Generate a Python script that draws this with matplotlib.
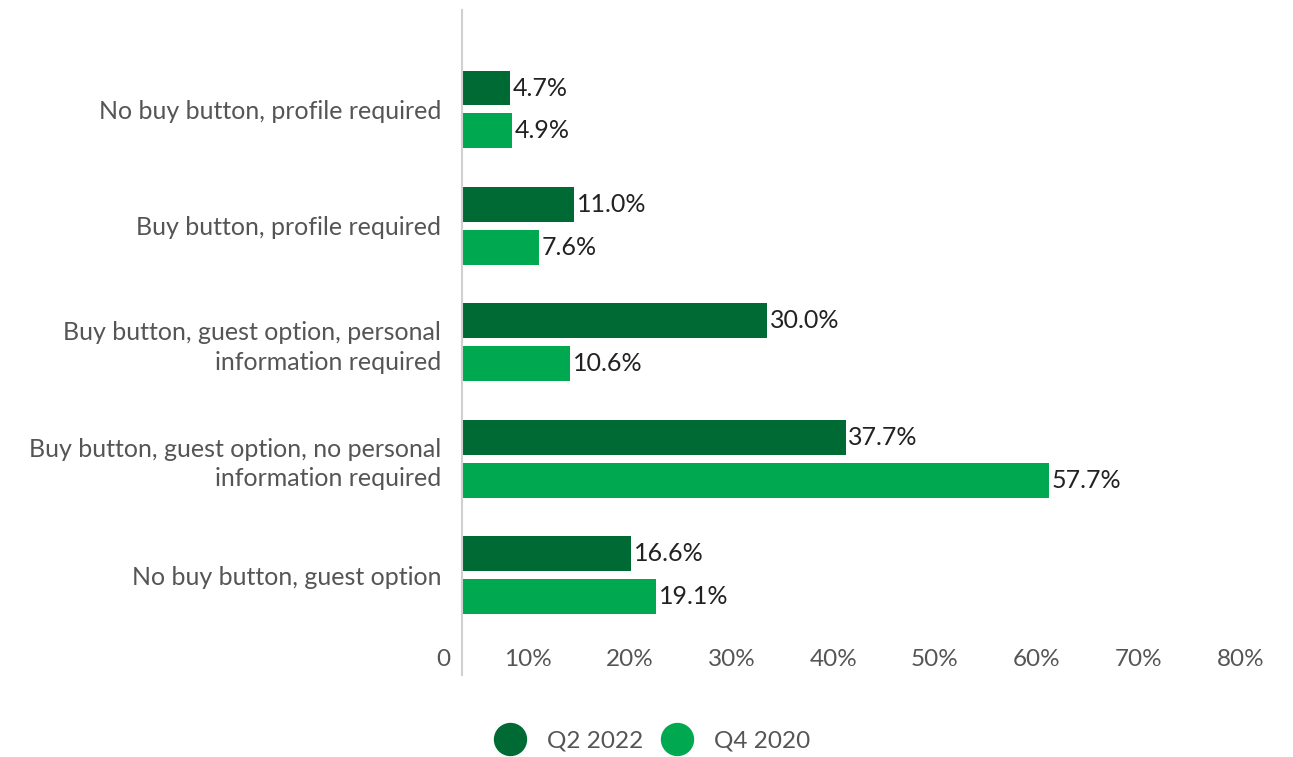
import numpy as np
import matplotlib.pyplot as plt
import matplotlib.transforms as mtransforms
from matplotlib.lines import Line2D

plt.rcParams['font.family'] = ['Lato', 'DejaVu Sans']

categories = [
    "No buy button, profile required",
    "Buy button, profile required",
    "Buy button, guest option, personal\ninformation required",
    "Buy button, guest option, no personal\ninformation required",
    "No buy button, guest option",
]
q2_2022 = [4.7, 11.0, 30.0, 37.7, 16.6]
q4_2020 = [4.9, 7.6, 10.6, 57.7, 19.1]
series_names = ["Q2 2022", "Q4 2020"]
xticks = [0, 10, 20, 30, 40, 50, 60, 70, 80]
xtick_labels = ["0", "10%", "20%", "30%", "40%", "50%", "60%", "70%", "80%"]

dark = "#006a35"
light = "#00a94f"
text_gray = "#555555"
value_col = "#222222"

W, H = 1293, 757
fig = plt.figure(figsize=(W / 100, H / 100), dpi=100)
ax = fig.add_axes([462 / W, 1 - 675 / H, 814 / W, 665 / H])

y = np.arange(len(categories))
h = 0.30
off = 0.184
b1 = ax.barh(y - off, q2_2022, height=h, color=dark)
b2 = ax.barh(y + off, q4_2020, height=h, color=light)

for bars, vals in ((b1, q2_2022), (b2, q4_2020)):
    for rect, v in zip(bars, vals):
        ax.annotate(f"{v:.1f}%", (rect.get_width(), rect.get_y() + rect.get_height() / 2),
                    xytext=(2, 0), textcoords="offset points", ha="left", va="center",
                    fontsize=18, color=value_col)

ax.set_xlim(0, 80)
ax.set_ylim(4.858, -0.854)

# x tick labels sit just left of their tick, near the bottom of the axis line
ax.set_xticks([])
tick_tf = mtransforms.blended_transform_factory(ax.transData, fig.transFigure)
shift = mtransforms.ScaledTranslation(-12 / 100, 0, fig.dpi_scale_trans)
for xt, lab in zip(xticks, xtick_labels):
    ax.text(xt, 1 - 660 / H, lab, transform=tick_tf + shift, ha="right", va="center",
            fontsize=17.5, color=text_gray)

ax.set_yticks(y)
ax.set_yticklabels(categories, fontsize=18, color=text_gray, linespacing=1.35)
ax.tick_params(axis="y", length=0, pad=15)

for s in ("top", "right", "bottom"):
    ax.spines[s].set_visible(False)
ax.spines["left"].set_color("#d0d0d0")
ax.spines["left"].set_linewidth(1.5)

handles = [Line2D([], [], marker="o", linestyle="", markersize=23, color=dark),
           Line2D([], [], marker="o", linestyle="", markersize=23, color=light)]
fig.legend(handles, series_names, loc="center", bbox_to_anchor=(648 / W, 1 - 741 / H),
           ncol=2, frameon=False, fontsize=17.5, handletextpad=0.5, columnspacing=0.4,
           labelcolor=text_gray)

fig.savefig("out.png", dpi=100)
